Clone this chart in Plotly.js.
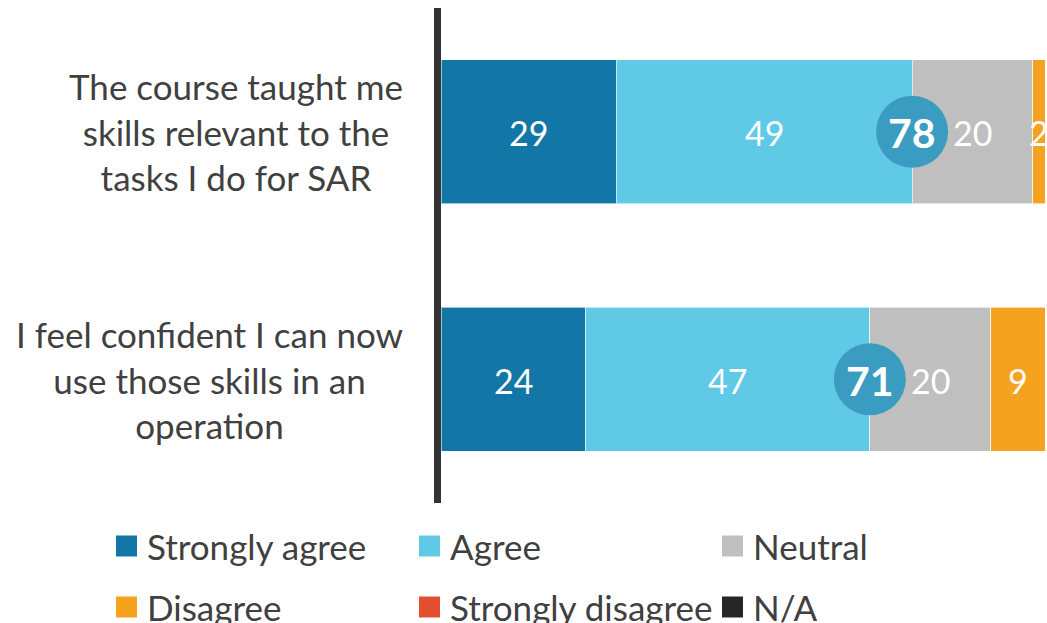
<!DOCTYPE html>
<html>
<head>
<meta charset="utf-8">
<script src="https://cdn.plot.ly/plotly-3.0.1.min.js"></script>
<style>
  html, body { margin: 0; padding: 0; background: #fff; }
  #chart { width: 1047px; height: 623px; }
</style>
</head>
<body>
<div id="chart"></div>
<script>
const CATEGORIES = [
  'The course taught me<br>skills relevant to the<br>tasks I do for SAR',
  'I feel confident I can now<br>use those skills in an<br>operation',
];

const SERIES_NAMES = ['Strongly agree', 'Agree', 'Neutral', 'Disagree', 'Strongly disagree', 'N/A'];
const SERIES_COLORS = ['#1277a7', '#5fc9e6', '#bfbfbf', '#f5a31e', '#e14f2f', '#262626'];

const stronglyAgree = [29, 24];
const agree = [49, 47];
const neutral = [20, 20];
const disagree = [2, 9];
const stronglyDisagree = [0, 0];
const notApplicable = [0, 0];

const SERIES_VALUES = [stronglyAgree, agree, neutral, disagree, stronglyDisagree, notApplicable];

const FONT = 'Lato, "Open Sans", sans-serif';
const TEXT_COLOR = '#404040';

// plot area in pixels, used to place the hand-made legend and labels
const W = 1047, H = 623;
const margin = { l: 441, r: 2, t: 8, b: 120 };
const plotW = W - margin.l - margin.r;
const plotH = H - margin.t - margin.b;
const px = x => (x - margin.l) / plotW;
const py = y => (H - margin.b - y) / plotH;

const plotData = [];
const annotations = [];
const shapes = [];

// stacked segments
SERIES_NAMES.forEach((name, i) => {
  plotData.push({
    type: 'bar',
    orientation: 'h',
    name,
    x: SERIES_VALUES[i],
    y: CATEGORIES,
    marker: { color: SERIES_COLORS[i], line: { color: 'rgba(255,255,255,0.6)', width: 1 } },
    hoverinfo: 'skip',
    showlegend: false,
  });
});

// segment value labels, centred in each segment
CATEGORIES.forEach((cat, c) => {
  let start = 0;
  SERIES_VALUES.forEach((values) => {
    const v = values[c];
    if (v > 0) {
      annotations.push({
        x: start + v / 2,
        y: cat,
        xref: 'x',
        yref: 'y',
        text: String(v),
        showarrow: false,
        yshift: -1,
        font: { family: FONT, size: 34, color: '#ffffff' },
      });
    }
    start += v;
  });
});

// total agreement bubble at the end of the agree segment
const totalAgree = CATEGORIES.map((_, c) => stronglyAgree[c] + agree[c]);
plotData.push({
  type: 'scatter',
  mode: 'markers',
  x: totalAgree,
  y: CATEGORIES,
  marker: { color: '#3a9cc0', size: 72, line: { width: 0 } },
  cliponaxis: false,
  hoverinfo: 'skip',
  showlegend: false,
});
totalAgree.forEach((t, c) => {
  annotations.push({
    x: t,
    y: CATEGORIES[c],
    xref: 'x',
    yref: 'y',
    text: '<b>' + t + '</b>',
    showarrow: false,
    yshift: -1,
    font: { family: FONT, size: 41, color: '#ffffff' },
  });
});

// category labels: box right-aligned near the axis, lines centred in it
CATEGORIES.forEach((cat) => {
  annotations.push({
    x: px(405),
    y: cat,
    xref: 'paper',
    yref: 'y',
    text: cat,
    align: 'center',
    xanchor: 'right',
    yanchor: 'middle',
    showarrow: false,
    font: { family: FONT, size: 35, color: TEXT_COLOR },
  });
});

// legend, three columns by two rows
const legendCols = [116, 419, 722];
const legendRows = [546, 607];
const swatch = 21;
SERIES_NAMES.forEach((name, i) => {
  const left = legendCols[i % 3];
  const cy = legendRows[Math.floor(i / 3)];
  shapes.push({
    type: 'rect',
    xref: 'paper',
    yref: 'paper',
    x0: px(left),
    x1: px(left + swatch),
    y0: py(cy - swatch / 2),
    y1: py(cy + swatch / 2),
    fillcolor: SERIES_COLORS[i],
    line: { width: 0 },
  });
  annotations.push({
    x: px(left + swatch + 8),
    y: py(cy),
    xref: 'paper',
    yref: 'paper',
    text: name,
    xanchor: 'left',
    yanchor: 'middle',
    showarrow: false,
    font: { family: FONT, size: 35, color: TEXT_COLOR },
  });
});

const plotLayout = {
  width: W,
  height: H,
  margin,
  barmode: 'stack',
  bargap: 0.42,
  paper_bgcolor: '#ffffff',
  plot_bgcolor: '#ffffff',
  showlegend: false,
  xaxis: {
    range: [0, 100],
    fixedrange: true,
    showgrid: false,
    zeroline: false,
    showticklabels: false,
    ticks: '',
  },
  yaxis: {
    autorange: 'reversed',
    fixedrange: true,
    showgrid: false,
    zeroline: false,
    showticklabels: false,
    ticks: '',
    showline: true,
    linewidth: 7,
    linecolor: '#333333',
  },
  annotations,
  shapes,
};

Plotly.newPlot('chart', plotData, plotLayout, { displayModeBar: false, staticPlot: true });
</script>
</body>
</html>
